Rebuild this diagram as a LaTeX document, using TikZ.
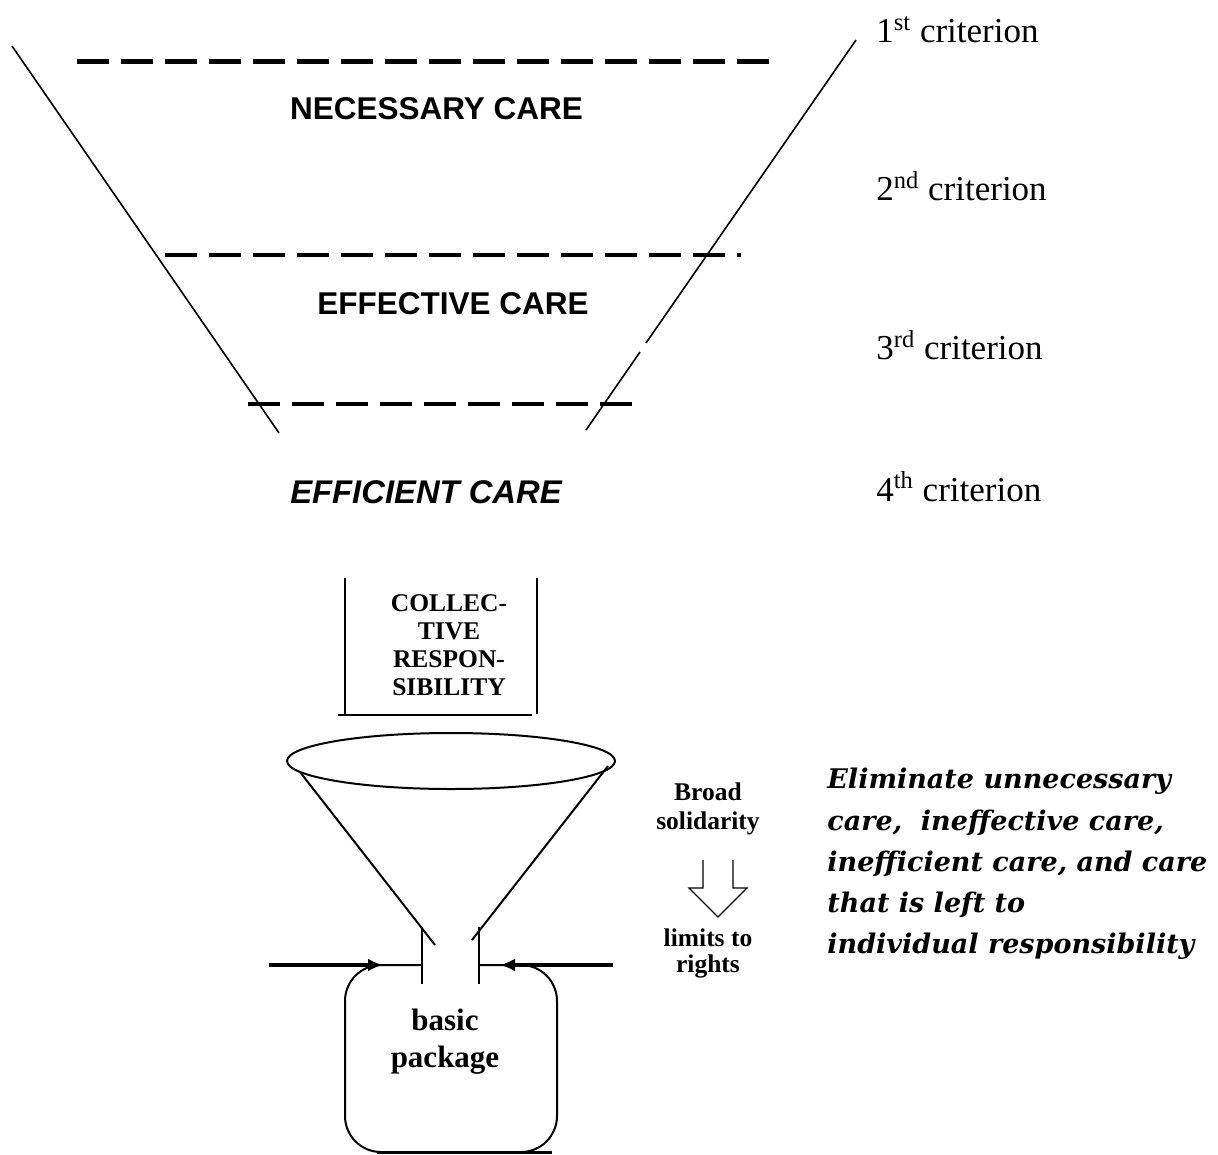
\documentclass[tikz,border=0pt]{standalone}
\usepackage{fontspec}
\setmainfont{Liberation Serif}
\newfontfamily\arialf{Liberation Sans}
\newfontfamily\dvserif{DejaVu Serif}
\usetikzlibrary{arrows.meta}
\begin{document}
\begin{tikzpicture}[x=0.5pt,y=-0.5pt,
  thinline/.style={line width=0.8pt},
  rule/.style={line width=1pt},
  dashrule/.style={line width=2.25pt, dash pattern=on 15.75pt off 6.25pt},
  pushline/.style={line width=2.25pt,-{Latex[length=7.5pt,width=6.5pt]}},
  caretext/.style={font=\arialf\bfseries\fontsize{15.75}{18}\selectfont, anchor=base, inner sep=0},
  crit/.style={font=\fontsize{17.5}{20}\selectfont, anchor=base west, inner sep=0},
  colltext/.style={font=\bfseries\fontsize{12.75}{14}\selectfont, anchor=base, inner sep=0},
  pkgtext/.style={font=\bfseries\fontsize{15.5}{18}\selectfont, anchor=base, inner sep=0},
  soltext/.style={font=\bfseries\fontsize{12.75}{14}\selectfont, anchor=base, inner sep=0},
  elimtext/.style={font=\dvserif\bfseries\itshape\fontsize{13.5}{16}\selectfont, anchor=base west, inner sep=0},
  hollow/.style={line width=0.6pt}
]
\useasboundingbox (0,0) rectangle (1218,1154);

% ---- upper funnel ----
\coordinate (tl1) at (12,46);
\coordinate (tl2) at (279,433);
\coordinate (tr1) at (856,40);
\coordinate (tr2) at (646,343);
\coordinate (tr3) at (640,352);
\coordinate (tr4) at (586,430);
\draw[thinline] (tl1) -- (tl2);
\draw[thinline] (tr1) -- (tr2);
\draw[thinline] (tr3) -- (tr4);

% ---- dashed levels ----
\coordinate (d1a) at (77,61.5);  \coordinate (d1b) at (769,61.5);
\coordinate (d2a) at (165,255);  \coordinate (d2b) at (741,255);
\coordinate (d3a) at (248,404);  \coordinate (d3b) at (632,404);
\draw[dashrule] (d1a) -- (d1b);
\draw[dashrule] (d2a) -- (d2b);
\draw[dashrule] (d3a) -- (d3b);

% ---- care labels ----
\node[caretext] (nec) at (436.5,120) {NECESSARY CARE};
\node[caretext] (eff) at (453,315) {EFFECTIVE CARE};
\node[caretext, font=\arialf\bfseries\itshape\fontsize{16.4}{18}\selectfont] (effi) at (426,503) {EFFICIENT CARE};

% ---- criteria ----
\node[crit] (c1) at (876,43) {1\textsuperscript{st} criterion};
\node[crit] (c2) at (876,201) {2\textsuperscript{nd} criterion};
\node[crit] (c3) at (876,360) {3\textsuperscript{rd} criterion};
\node[crit] (c4) at (876,501) {4\textsuperscript{th} criterion};

% ---- collective responsibility ----
\coordinate (cbl1) at (345,578); \coordinate (cbl2) at (345,714);
\coordinate (cbr1) at (537,578); \coordinate (cbr2) at (537,714);
\coordinate (cbb1) at (338,715); \coordinate (cbb2) at (532,715);
\draw[rule] (cbl1) -- (cbl2);
\draw[rule] (cbr1) -- (cbr2);
\draw[rule] (cbb1) -- (cbb2);
\node[colltext] (col1) at (449,611) {COLLEC-};
\node[colltext] (col2) at (449,639) {TIVE};
\node[colltext] (col3) at (449,667) {RESPON-};
\node[colltext] (col4) at (449,695) {SIBILITY};

% ---- lower funnel ----
\coordinate (rim) at (451,761);
\draw[rule] (rim) ellipse [x radius=164, y radius=28];
\coordinate (fl1) at (300,772); \coordinate (fl2) at (435,945);
\coordinate (fr1) at (608,766); \coordinate (fr2) at (472,940);
\draw[rule] (fl1) -- (fl2);
\draw[rule] (fr1) -- (fr2);
\coordinate (nl1) at (422,927); \coordinate (nl2) at (422,984);
\coordinate (nr1) at (479,927); \coordinate (nr2) at (479,984);
\draw[rule] (nl1) -- (nl2);
\draw[rule] (nr1) -- (nr2);

% ---- basic package jar ----
\coordinate (jtl) at (345,965); \coordinate (jbl) at (345,1152);
\coordinate (jbr) at (557,1152); \coordinate (jtr) at (557,965);
\coordinate (jnl) at (422,965); \coordinate (jnr) at (479,965);
\draw[rule, rounded corners=18pt] (jnl) -- (jtl) -- (jbl) -- (jbr) -- (jtr) -- (jnr);
\coordinate (jb1) at (377,1152.5); \coordinate (jb2) at (552,1152.5);
\draw[line width=1.5pt] (jb1) -- (jb2);
\node[pkgtext] (basic) at (445,1030) {basic};
\node[pkgtext] (package) at (445,1067) {package};

% ---- side arrows ----
\coordinate (al1) at (269,965); \coordinate (al2) at (383,965);
\coordinate (ar1) at (613,965); \coordinate (ar2) at (500,965);
\draw[pushline] (al1) -- (al2);
\draw[pushline] (ar1) -- (ar2);

% ---- solidarity ----
\node[soltext] (broad) at (708,800) {Broad};
\node[soltext] (solid) at (708,829) {solidarity};
\node[soltext] (limits) at (708,946) {limits to};
\node[soltext] (rights) at (708,972) {rights};
\coordinate (h1) at (703,860); \coordinate (h2) at (703,888);
\coordinate (h3) at (689,888); \coordinate (h4) at (718,917);
\coordinate (h5) at (747,888); \coordinate (h6) at (733,888);
\coordinate (h7) at (733,860);
\draw[hollow] (h1) -- (h2) -- (h3) -- (h4) -- (h5) -- (h6) -- (h7);

% ---- eliminate text ----
\node[elimtext] (e1) at (827,788) {Eliminate unnecessary};
\node[elimtext] (e2) at (827,830) {care,\ \ ineffective care,};
\node[elimtext] (e3) at (827,871) {inefficient care, and care};
\node[elimtext] (e4) at (827,912) {that is left to};
\node[elimtext] (e5) at (827,953) {individual responsibility};
\end{tikzpicture}
\end{document}
